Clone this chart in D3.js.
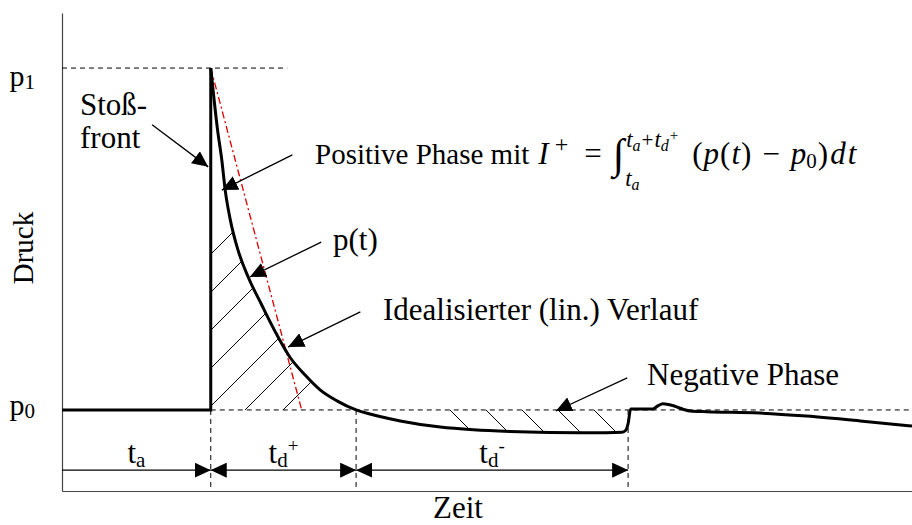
<!DOCTYPE html>
<html>
<head>
<meta charset="utf-8">
<script src="https://cdn.jsdelivr.net/npm/d3@7"></script>
<style>
    body { margin: 0; background: #fff; }
    text { font-family: "Liberation Serif", serif; fill: #000; }
</style>
</head>
<body>
<svg id="chart" width="912" height="525"></svg>
<script>
// Axis extents (time in arbitrary units, overpressure normalised: p0 = 0, p1 = 1)
const timeDomain = [0, 100];
const pressureDomain = [-0.237, 1.161];

// Characteristic times
const tArrival = 17.5;
const tPositiveEnd = 34.6;
const tNegativeEnd = 66.6;
const tIdealEnd = 28.2;
const tPeakGuideEnd = 26.5;
const tNegHatchStart = 44.5;

// Reference levels
const levelValues = [0, 1];
const levelSubs = ['0', '1'];

// Pressure history after the shock front
const decayT = [17.5, 17.9, 18.3, 18.8, 19.2, 19.8, 20.7, 21.9, 23.5, 25.3,
                26.8, 28.6, 30.4, 32.4, 34.6, 37.4, 39.8, 44.5, 48.4, 52.7,
                57.4, 62.1, 65.9, 66.3, 66.6, 66.9, 67.5, 69.5, 70.1, 70.7,
                71.5, 73.9, 75.9, 82.1, 87.6, 93.9, 100];
const decayP = [1, 0.906, 0.819, 0.731, 0.643, 0.556, 0.468, 0.389, 0.307, 0.219,
                0.155, 0.102, 0.058, 0.026, 0, -0.019, -0.032, -0.050, -0.058, -0.063,
                -0.066, -0.067, -0.065, -0.060, -0.040, 0.003, 0.003, 0.003, 0.012, 0.018,
                0.015, -0.003, -0.005, -0.009, -0.018, -0.032, -0.047];

// Dimension line level and segments
const dimLevel = -0.176;
const dimSegments = [[0, tArrival, false], [tArrival, tPositiveEnd, true], [tPositiveEnd, tNegativeEnd, true]];

// Annotation arrows [t from, p from, t to, p to]
const annotArrows = [
    [10.6, 0.834, 17.2, 0.711],
    [27.1, 0.746, 18.8, 0.643],
    [30.5, 0.491, 22.1, 0.389],
    [35.1, 0.287, 26.6, 0.184],
    [66.5, 0.094, 58.1, -0.003]
];

const svg = d3.select('#chart');
const x = d3.scaleLinear().domain(timeDomain).range([62, 912]);
const y = d3.scaleLinear().domain(pressureDomain).range([491, 13]);

// Arrowhead marker
const defs = svg.append('defs');
defs.append('marker')
    .attr('id', 'head')
    .attr('viewBox', '0 0 16 15')
    .attr('refX', 16).attr('refY', 7.5)
    .attr('markerWidth', 16).attr('markerHeight', 15)
    .attr('markerUnits', 'userSpaceOnUse')
    .attr('orient', 'auto-start-reverse')
    .append('path')
    .attr('d', 'M0,0L16,7.5L0,15Z')
    .attr('fill', '#000');

const decay = decayT.map((t, i) => [t, decayP[i]]);
const line = d3.line().x(d => x(d[0])).y(d => y(d[1]));
const curveLine = d3.line().x(d => x(d[0])).y(d => y(d[1])).curve(d3.curveMonotoneX);
const area = d3.area().x(d => x(d[0])).y0(y(0)).y1(d => y(d[1])).curve(d3.curveMonotoneX);

// Clip regions for the hatching
defs.append('clipPath').attr('id', 'clipPos')
    .append('path').attr('d', area(decay.filter(d => d[0] <= tPositiveEnd)));
defs.append('clipPath').attr('id', 'clipNeg')
    .append('path').attr('d', area(decay.filter(d => d[0] >= tNegHatchStart && d[0] <= tNegativeEnd - 0.3)));

// Axes
const yAxis = svg.append('g')
    .attr('transform', `translate(${x(0)},0)`)
    .call(d3.axisLeft(y).tickValues(levelValues).tickSize(0).tickSizeOuter(0).tickPadding(27).tickFormat(''));
yAxis.select('.domain').attr('stroke', '#444').attr('stroke-width', 1.2);
yAxis.selectAll('.tick text')
    .attr('font-family', 'Liberation Serif').attr('font-size', 30)
    .attr('dy', d => d === 1 ? 17 : 5)
    .each(function(d, i) {
        const t = d3.select(this);
        t.append('tspan').text('p');
        t.append('tspan').attr('font-size', 21).attr('dy', 3).text(levelSubs[i]);
    });

const xAxis = svg.append('g')
    .attr('transform', `translate(0,${y(pressureDomain[0])})`)
    .call(d3.axisBottom(x).tickValues([]).tickSizeOuter(0));
xAxis.select('.domain').attr('stroke', '#444').attr('stroke-width', 1.2);

// Dashed guides
const guides = svg.append('g').attr('stroke', '#000').attr('stroke-width', 1).attr('stroke-dasharray', '5,4').attr('fill', 'none');
guides.append('path').attr('d', line([[0, 1], [tPeakGuideEnd, 1]]));
guides.append('path').attr('d', line([[tArrival, 0], [timeDomain[1], 0]]));
[tArrival, tPositiveEnd, tNegativeEnd].forEach(t => {
    guides.append('path').attr('d', line([[t, 0], [t, pressureDomain[0]]]));
});

// Hatching
const hatchPos = svg.append('g').attr('clip-path', 'url(#clipPos)').attr('stroke', '#000').attr('stroke-width', 1);
d3.range(465, 720, 38).forEach(c => {
    hatchPos.append('line').attr('x1', c - 500).attr('y1', 500).attr('x2', c).attr('y2', 0);
});
const hatchNeg = svg.append('g').attr('clip-path', 'url(#clipNeg)').attr('stroke', '#000').attr('stroke-width', 1);
d3.range(40, 240, 36).forEach(c => {
    hatchNeg.append('line').attr('x1', c + 300).attr('y1', 300).attr('x2', c + 500).attr('y2', 500);
});

// Idealised linear decay
svg.append('path')
    .attr('d', line([[tArrival, 1], [tIdealEnd, 0]]))
    .attr('stroke', '#e00000').attr('stroke-width', 1.3)
    .attr('stroke-dasharray', '7,3,2,3').attr('fill', 'none');

// Pressure history
svg.append('path')
    .attr('d', line([[timeDomain[0], 0], [tArrival, 0], [tArrival, 1]]))
    .attr('stroke', '#000').attr('stroke-width', 3).attr('fill', 'none');
svg.append('path')
    .attr('d', curveLine(decay))
    .attr('stroke', '#000').attr('stroke-width', 3).attr('fill', 'none');

// Dimension arrows
dimSegments.forEach(([a, b, both]) => {
    const p = svg.append('path')
        .attr('d', line([[a, dimLevel], [b, dimLevel]]))
        .attr('stroke', '#000').attr('stroke-width', 1.2).attr('fill', 'none')
        .attr('marker-end', 'url(#head)');
    if (both) p.attr('marker-start', 'url(#head)');
});

// Annotation arrows
annotArrows.forEach(([t0, p0, t1, p1]) => {
    svg.append('path')
        .attr('d', line([[t0, p0], [t1, p1]]))
        .attr('stroke', '#000').attr('stroke-width', 1.3).attr('fill', 'none')
        .attr('marker-end', 'url(#head)');
});

// Text helpers
function label(xp, yp, str, size, opts) {
    opts = opts || {};
    return svg.append('text')
        .attr('x', xp).attr('y', yp)
        .attr('font-size', size)
        .attr('font-style', opts.italic ? 'italic' : null)
        .attr('font-family', opts.family || null)
        .attr('text-anchor', opts.anchor || 'start')
        .text(str);
}

// Lay out pieces one after another, returns end x
function chain(x0, yb, parts) {
    let cx = x0;
    parts.forEach(p => {
        cx += p.gap || 0;
        const t = label(cx, yb + (p.dy || 0), p.s, p.size, p);
        cx += t.node().getComputedTextLength();
    });
    return cx;
}

// Plain labels
label(80, 115, 'Stoß-', 31);
label(80, 148, 'front', 31);
label(333, 250, 'p(t)', 31);
label(383, 320, 'Idealisierter (lin.) Verlauf', 31);
label(647, 385, 'Negative Phase', 31);
label(458, 518, 'Zeit', 31, {anchor: 'middle'});
svg.append('text')
    .attr('transform', 'translate(33,248) rotate(-90)')
    .attr('text-anchor', 'middle').attr('font-size', 29)
    .text('Druck');

// Segment labels
function segLabel(tMid, main, sub, sup) {
    const t = svg.append('text')
        .attr('x', x(tMid)).attr('y', y(dimLevel) - 7)
        .attr('text-anchor', 'middle').attr('font-size', 31);
    t.append('tspan').text(main);
    t.append('tspan').attr('font-size', 21).attr('dy', 4).text(sub);
    if (sup) t.append('tspan').attr('font-size', 19).attr('dy', -15).text(sup);
}
segLabel((0 + tArrival) / 2, 't', 'a');
segLabel((tArrival + tPositiveEnd) / 2, 't', 'd', '+');
segLabel((tPositiveEnd + tNegativeEnd) / 2, 't', 'd', '-');

// Impulse formula
const base = 164;
let fx = chain(315, base, [{s: 'Positive Phase mit', size: 29}]);
fx = chain(fx, base, [
    {s: 'I', size: 31, italic: true, gap: 9},
    {s: '+', size: 24, dy: -12, gap: 6},
    {s: '=', size: 31, gap: 16}
]);
fx = chain(fx, base, [{s: '∫', size: 42, italic: true, family: 'DejaVu Serif', gap: 11, dy: 4}]);
const upEnd = chain(fx + 2, base - 17, [
    {s: 't', size: 23, italic: true},
    {s: 'a', size: 16, italic: true, dy: 4},
    {s: '+', size: 21, gap: 1},
    {s: 't', size: 23, italic: true, gap: 1},
    {s: 'd', size: 16, italic: true, dy: 4},
    {s: '+', size: 15, dy: -7, gap: 1}
]);
const loEnd = chain(fx + 1, base + 22, [
    {s: 't', size: 23, italic: true},
    {s: 'a', size: 16, italic: true, dy: 4}
]);
fx = Math.max(upEnd, loEnd) + 14;
chain(fx, base, [
    {s: '(', size: 31},
    {s: 'p', size: 31, italic: true, gap: 1},
    {s: '(', size: 31, gap: 1},
    {s: 't', size: 31, italic: true, gap: 1},
    {s: ')', size: 31, gap: 1},
    {s: '−', size: 31, gap: 11},
    {s: 'p', size: 31, italic: true, gap: 11},
    {s: '0', size: 21, dy: 4},
    {s: ')', size: 31, gap: 1},
    {s: 'd', size: 31, italic: true, gap: 2},
    {s: 't', size: 31, italic: true, gap: 2}
]);
</script>
</body>
</html>
